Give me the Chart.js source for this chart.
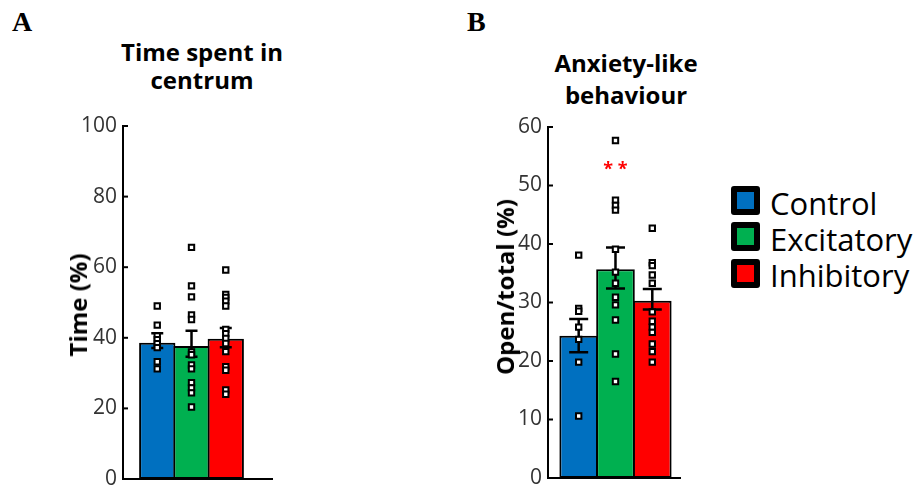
<!DOCTYPE html>
<html>
<head>
<meta charset="utf-8">
<script src="https://cdn.jsdelivr.net/npm/chart.js@4"></script>
<style>
html,body{margin:0;padding:0;width:924px;height:488px;overflow:hidden;background:#fff;}
#wrap{position:relative;width:924px;height:488px;}
canvas{position:absolute;top:0;}
.lbl{position:absolute;font-family:"Liberation Serif","Times New Roman",serif;font-weight:bold;font-size:28px;line-height:28px;white-space:nowrap;color:#000;}
.ttl{position:absolute;font-family:"Open Sans",sans-serif;font-weight:bold;font-size:24px;text-align:center;white-space:nowrap;transform:translateX(-50%);color:#000;}
.ytl{position:absolute;font-family:"Open Sans",sans-serif;font-weight:bold;font-size:24px;line-height:28px;height:28px;white-space:nowrap;color:#000;transform:translate(-50%,-50%) rotate(-90deg);}
.lgbox{position:absolute;width:17px;height:17px;border:6px solid #000;border-radius:3px;}
.lgtxt{position:absolute;font-family:"Open Sans",sans-serif;font-size:31px;line-height:31px;white-space:nowrap;color:#000;}
</style>
</head>
<body>
<div id="wrap">
  <div class="lbl" style="left:12px;top:8px;">A</div>
  <div class="lbl" style="left:467px;top:8px;">B</div>
  <div class="ttl" style="left:202px;top:38px;line-height:28px;">Time spent in<br>centrum</div>
  <div class="ttl" style="left:626px;top:47px;line-height:31.6px;">Anxiety-like<br>behaviour</div>
  <canvas id="cA" width="300" height="510" style="left:0px;"></canvas>
  <canvas id="cB" width="260" height="510" style="left:440px;"></canvas>
  <div class="ytl" style="left:78px;top:305px;">Time (%)</div>
  <div class="ytl" style="left:505px;top:287px;">Open/total (%)</div>
  <div id="legend"></div>
</div>
<script>
// ---- data ----
const categories = ['Control', 'Excitatory', 'Inhibitory'];

const timeMeans   = [38.6, 37.7, 39.7];
const timeErrHigh = [41.3, 42.0, 42.8];
const timeErrLow  = [37.1, 34.6, 37.3];
const timeControl    = [49.0, 43.6, 40.5, 39.5, 38.3, 37.2, 33.2, 31.2];
const timeExcitatory = [65.6, 54.7, 51.6, 46.5, 45.2, 36.0, 35.2, 32.3, 31.2, 27.3, 25.8, 24.4, 20.4];
const timeInhibitory = [59.2, 52.3, 51.4, 50.4, 49.0, 42.4, 41.2, 39.8, 38.4, 36.1, 31.8, 30.8, 25.2, 24.0];
const timeTicks = [0, 20, 40, 60, 80, 100];

const openMeans   = [24.3, 35.7, 30.3];
const openErrHigh = [27.2, 39.4, 32.3];
const openErrLow  = [21.5, 32.4, 28.8];
const openControl    = [38.1, 29.0, 28.5, 25.8, 23.7, 19.8, 10.6];
const openExcitatory = [57.7, 47.5, 46.6, 45.8, 39.1, 35.2, 33.3, 30.9, 29.6, 27.0, 21.2, 16.5];
const openInhibitory = [42.7, 36.8, 36.3, 34.7, 33.3, 28.4, 26.8, 25.8, 24.9, 22.9, 21.6, 19.8];
const openTicks = [0, 10, 20, 30, 40, 50, 60];
const openSignificance = ['', '**', ''];
const openSignificanceLevel = 53.5;

// ---- styles ----
const barColors = ['#0070C0', '#00B050', '#FF0000'];

function makePanel(id, o) {
  const barData = o.means.map((m, i) => ({x: i + 1, y: m}));
  const pts = [];
  o.groups.forEach((g, i) => g.forEach(v => pts.push({x: i + 1, y: v})));
  const plugin = {
    id: 'extras' + id,
    afterDatasetDraw(chart, args) {
      if (args.index !== 0) return;
      const ctx = chart.ctx, xs = chart.scales.x, ys = chart.scales.y;
      ctx.save();
      ctx.strokeStyle = '#000';
      ctx.lineWidth = 2.5;
      o.means.forEach((m, i) => {
        const x = xs.getPixelForValue(i + 1);
        const yh = ys.getPixelForValue(o.high[i]);
        const yl = ys.getPixelForValue(o.low[i]);
        const c = o.cap / 2;
        ctx.beginPath();
        ctx.moveTo(x, yh); ctx.lineTo(x, yl);
        ctx.moveTo(x - c, yh); ctx.lineTo(x + c, yh);
        ctx.moveTo(x - c, yl); ctx.lineTo(x + c, yl);
        ctx.stroke();
      });
      ctx.restore();
    },
    afterDraw(chart) {
      const ctx = chart.ctx, xs = chart.scales.x, ys = chart.scales.y;
      const left = chart.chartArea.left;
      ctx.save();
      ctx.strokeStyle = '#000';
      ctx.lineWidth = 2;
      ys.ticks.forEach((t, i) => {
        const y = ys.getPixelForTick(i);
        ctx.beginPath();
        ctx.moveTo(left, y); ctx.lineTo(left + 5, y);
        ctx.stroke();
      });
      if (o.sig) {
        ctx.fillStyle = '#FF0000';
        ctx.font = 'bold 18px "Open Sans"';
        ctx.textAlign = 'center';
        ctx.textBaseline = 'alphabetic';
        o.sig.forEach((s, i) => {
          if (!s) return;
          const txt = s.split('').join(' ');
          const m = ctx.measureText(txt);
          const off = (m.actualBoundingBoxAscent - m.actualBoundingBoxDescent) / 2;
          ctx.fillText(txt, xs.getPixelForValue(i + 1), ys.getPixelForValue(o.sigLevel) + off);
        });
      }
      ctx.restore();
    }
  };
  return new Chart(document.getElementById(id), {
    type: 'bar',
    data: {
      datasets: [
        {
          type: 'bar',
          order: 1,
          data: barData,
          backgroundColor: barColors,
          borderColor: '#000',
          borderWidth: 2,
          borderSkipped: false,
          categoryPercentage: 1,
          barPercentage: o.barPct
        },
        {
          type: 'scatter',
          order: 0,
          data: pts,
          pointStyle: 'rect',
          pointRadius: 3.8,
          pointBackgroundColor: '#fff',
          pointBorderColor: '#000',
          pointBorderWidth: 2
        }
      ]
    },
    options: {
      responsive: false,
      animation: false,
      devicePixelRatio: 1,
      events: [],
      layout: {padding: o.pad},
      plugins: {legend: {display: false}, tooltip: {enabled: false}},
      scales: {
        x: {
          type: 'linear',
          offset: false,
          min: o.xMin,
          max: o.xMax,
          ticks: {display: false, stepSize: 1, includeBounds: false},
          grid: {display: false, drawTicks: false},
          border: {display: true, color: '#000', width: 2},
          afterFit(s) { s.height = 0; }
        },
        y: {
          type: 'linear',
          min: 0,
          max: o.ticks[o.ticks.length - 1],
          afterBuildTicks(s) { s.ticks = o.ticks.map(v => ({value: v})); },
          ticks: {font: {family: 'Open Sans', size: 21}, color: '#333', padding: 6},
          grid: {display: false, drawTicks: false},
          border: {display: true, color: '#000', width: 2},
          title: {display: false},
          afterFit(s) { s.width = o.yWidth; }
        }
      }
    },
    plugins: [plugin]
  });
}

makePanel('cA', {
  means: timeMeans, high: timeErrHigh, low: timeErrLow,
  groups: [timeControl, timeExcitatory, timeInhibitory],
  ticks: timeTicks,
  xMin: 0, xMax: 4.35, barPct: 1.06, cap: 12,
  pad: {left: 64, right: 28, top: 126, bottom: 31}, yWidth: 59
});

makePanel('cB', {
  means: openMeans, high: openErrHigh, low: openErrLow,
  groups: [openControl, openExcitatory, openInhibitory],
  ticks: openTicks,
  xMin: 0.166, xMax: 3.753, barPct: 1.05, cap: 19,
  sig: openSignificance, sigLevel: openSignificanceLevel,
  pad: {left: 51, right: 20, top: 127, bottom: 32}, yWidth: 57
});

// ---- legend ----
const lg = document.getElementById('legend');
categories.forEach((c, i) => {
  const b = document.createElement('div');
  b.className = 'lgbox';
  b.style.left = '731px';
  b.style.top = (186 + i * 36.3) + 'px';
  b.style.background = barColors[i];
  lg.appendChild(b);
  const t = document.createElement('div');
  t.className = 'lgtxt';
  t.style.left = '770px';
  t.style.top = (187.5 + i * 36) + 'px';
  t.textContent = c;
  lg.appendChild(t);
});
</script>
</body>
</html>
